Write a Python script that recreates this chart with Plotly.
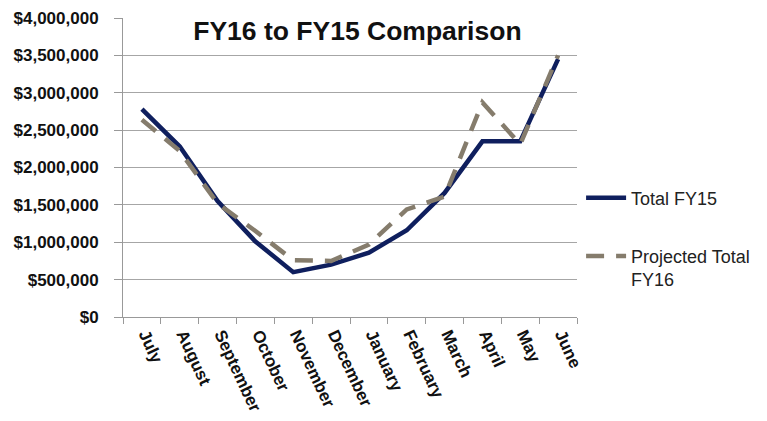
import plotly.graph_objects as go

months = ["July", "August", "September", "October", "November", "December",
          "January", "February", "March", "April", "May", "June"]
total_fy15 = [2780000, 2280000, 1550000, 1010000, 600000, 700000,
              860000, 1160000, 1660000, 2350000, 2350000, 3450000]
projected_fy16 = [2640000, 2220000, 1520000, 1150000, 760000, 750000,
                  970000, 1440000, 1610000, 2870000, 2310000, 3500000]
y_ticks = [0, 500000, 1000000, 1500000, 2000000, 2500000, 3000000, 3500000, 4000000]
y_labels = ["$0", "$500,000", "$1,000,000", "$1,500,000", "$2,000,000",
            "$2,500,000", "$3,000,000", "$3,500,000", "$4,000,000"]

fig = go.Figure()
fig.add_trace(go.Scatter(x=months, y=total_fy15, mode="lines", name="Total FY15",
                         legendgroup="a",
                         line=dict(color="#0f1f5e", width=4.5)))
fig.add_trace(go.Scatter(x=months, y=projected_fy16, mode="lines",
                         name="Projected Total<br>FY16", legendgroup="b",
                         line=dict(color="#857c6c", width=4.5, dash="18px,12px")))

fig.update_layout(
    width=767, height=421,
    margin=dict(l=123, r=188, t=18, b=104),
    paper_bgcolor="white", plot_bgcolor="white",
    font=dict(family="Liberation Sans, Arial, sans-serif", color="#000000"),
    title=dict(text="<b>FY16 to FY15 Comparison</b>", x=0.466, xanchor="center",
               y=0.926, yanchor="middle", font=dict(size=26.5, color="#111111")),
    showlegend=True,
    legend=dict(x=1.009, xref="paper", xanchor="left", y=0.46, yanchor="top",
                font=dict(size=18, color="#222222"), tracegroupgap=32,
                valign="top", bgcolor="rgba(0,0,0,0)", itemwidth=40),
    xaxis=dict(type="category", categoryorder="array", categoryarray=months,
               range=[-0.5, 11.5], tickangle=65, ticks="outside", ticklen=6,
               tickcolor="#999999", showline=True, linecolor="#999999", linewidth=1,
               showgrid=False, tickson="boundaries", automargin=False,
               ticklabelshift=4,
               tickfont=dict(size=17, family="Liberation Sans, Arial, sans-serif",
                             color="#111111", weight="bold")),
    yaxis=dict(range=[0, 4000000], tickvals=y_ticks, ticktext=y_labels,
               showgrid=True, gridcolor="#a6a6a6", gridwidth=1,
               showline=True, linecolor="#999999", linewidth=1,
               ticks="outside", ticklen=8, tickcolor="#999999",
               zeroline=False, automargin=False, ticklabelstandoff=12,
               tickfont=dict(size=17, family="Liberation Sans, Arial, sans-serif",
                             color="#111111", weight="bold")),
)

fig.write_html("out.html")
